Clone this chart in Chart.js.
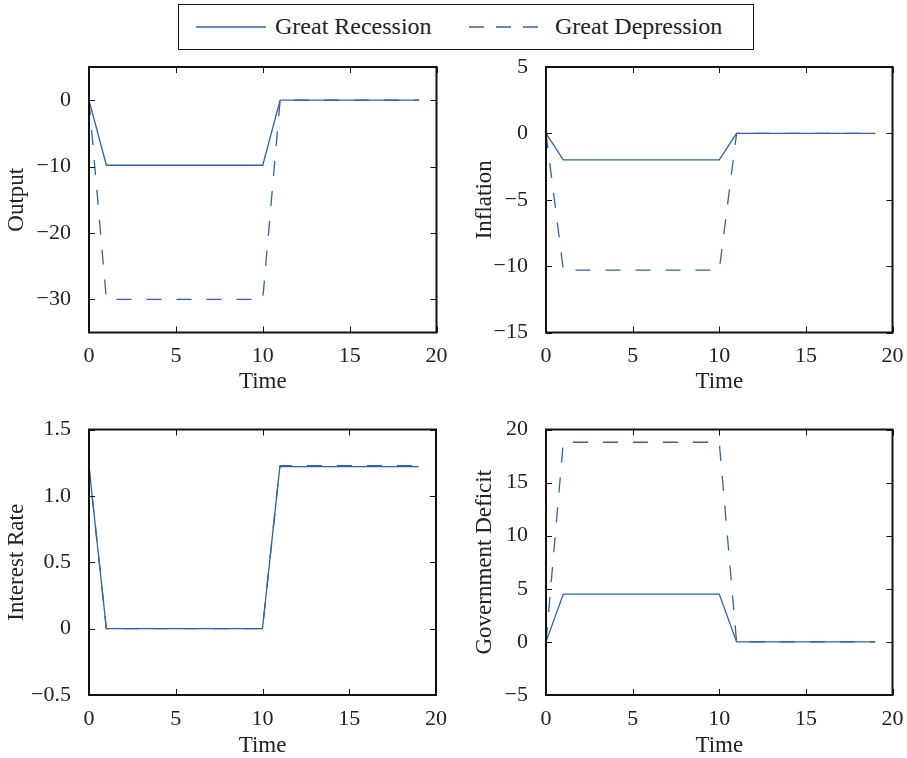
<!DOCTYPE html>
<html>
<head>
<meta charset="utf-8">
<script src="https://cdn.jsdelivr.net/npm/chart.js@4/dist/chart.umd.min.js"></script>
<style>
  body { margin: 0; width: 907px; height: 758px; background: #fff; position: relative; overflow: hidden; }
  canvas { position: absolute; }
  #legend { position: absolute; left: 178px; top: 4px; width: 574px; height: 44px; border: 1.5px solid #111; box-sizing: content-box; font-family: "Liberation Serif", serif; font-size: 24px; color: #222; }
  #legend span { position: absolute; top: 8px; white-space: nowrap; }
  #legend svg { position: absolute; left: 0; top: 0; }
</style>
</head>
<body>
<div id="legend">
  <svg width="574" height="44">
    <line x1="17" y1="22" x2="87" y2="22" stroke="#2c62b0" stroke-width="1.3"></line>
    <line x1="290" y1="22" x2="370" y2="22" stroke="#2c62b0" stroke-width="1.3" stroke-dasharray="15 12"></line>
  </svg>
  <span style="left:96px">Great Recession</span>
  <span style="left:376px">Great Depression</span>
</div>
<canvas id="c1"></canvas>
<canvas id="c2"></canvas>
<canvas id="c3"></canvas>
<canvas id="c4"></canvas>
<script>
const timeSteps = [0, 1, 2, 3, 4, 5, 6, 7, 8, 9, 10, 11, 12, 13, 14, 15, 16, 17, 18, 19];
const timeTicks = [0, 5, 10, 15, 20];

const outputRecession = [0, -9.8, -9.8, -9.8, -9.8, -9.8, -9.8, -9.8, -9.8, -9.8, -9.8, 0, 0, 0, 0, 0, 0, 0, 0, 0];
const outputDepression = [0, -30, -30, -30, -30, -30, -30, -30, -30, -30, -30, 0, 0, 0, 0, 0, 0, 0, 0, 0];
const outputTicks = [-30, -20, -10, 0];
const outputTickLabels = ["\u221230", "\u221220", "\u221210", "0"];

const inflationRecession = [0, -2, -2, -2, -2, -2, -2, -2, -2, -2, -2, 0, 0, 0, 0, 0, 0, 0, 0, 0];
const inflationDepression = [0, -10.3, -10.3, -10.3, -10.3, -10.3, -10.3, -10.3, -10.3, -10.3, -10.3, 0, 0, 0, 0, 0, 0, 0, 0, 0];
const inflationTicks = [-15, -10, -5, 0, 5];
const inflationTickLabels = ["\u221215", "\u221210", "\u22125", "0", "5"];

const rateRecession = [1.22, 0, 0, 0, 0, 0, 0, 0, 0, 0, 0, 1.22, 1.22, 1.22, 1.22, 1.22, 1.22, 1.22, 1.22, 1.22];
const rateDepression = [1.22, 0, 0, 0, 0, 0, 0, 0, 0, 0, 0, 1.228, 1.228, 1.228, 1.228, 1.228, 1.228, 1.228, 1.228, 1.228];
const rateTicks = [-0.5, 0, 0.5, 1, 1.5];
const rateTickLabels = ["\u22120.5", "0", "0.5", "1.0", "1.5"];

const deficitRecession = [0, 4.5, 4.5, 4.5, 4.5, 4.5, 4.5, 4.5, 4.5, 4.5, 4.5, 0, 0, 0, 0, 0, 0, 0, 0, 0];
const deficitDepression = [0, 18.8, 18.8, 18.8, 18.8, 18.8, 18.8, 18.8, 18.8, 18.8, 18.8, 0, 0, 0, 0, 0, 0, 0, 0, 0];
const deficitTicks = [-5, 0, 5, 10, 15, 20];
const deficitTickLabels = ["\u22125", "0", "5", "10", "15", "20"];

const lineColor = "#2c62b0";
const fontFamily = "'Liberation Serif', 'Times New Roman', serif";
const tickSize = 22;
const titleSize = 23;
const lineHeight = 1.2;

// frame + inward tick marks, matlab style
const boxPlugin = {
  id: "box",
  afterDraw(chart) {
    const { ctx, chartArea: a, scales } = chart;
    const len = 6;
    ctx.save();
    ctx.strokeStyle = "#111";
    ctx.lineWidth = 1;
    ctx.beginPath();
    scales.x.ticks.forEach((t) => {
      const px = Math.round(scales.x.getPixelForValue(t.value)) + 0.5;
      ctx.moveTo(px, a.bottom); ctx.lineTo(px, a.bottom - len);
      ctx.moveTo(px, a.top); ctx.lineTo(px, a.top + len);
    });
    scales.y.ticks.forEach((t) => {
      const py = Math.round(scales.y.getPixelForValue(t.value)) + 0.5;
      ctx.moveTo(a.left, py); ctx.lineTo(a.left + len, py);
      ctx.moveTo(a.right, py); ctx.lineTo(a.right - len, py);
    });
    ctx.stroke();
    ctx.lineWidth = 2;
    ctx.strokeRect(a.left, a.top, a.right - a.left, a.bottom - a.top);
    ctx.restore();
  },
};

function makePanel(opts) {
  const canvas = document.getElementById(opts.id);
  const [L, T, R, B] = opts.area;
  const cl = opts.canvas[0], ct = opts.canvas[1], cw = opts.canvas[2], ch = opts.canvas[3];
  canvas.style.left = cl + "px";
  canvas.style.top = ct + "px";
  canvas.width = cw;
  canvas.height = ch;
  canvas.style.width = cw + "px";
  canvas.style.height = ch + "px";

  const yAxisW = L - cl;
  const xAxisH = ct + ch - B;
  const yTitlePad = opts.yTitleX - cl - (titleSize * lineHeight) / 2;
  const xTitlePad = ct + ch - opts.xTitleY - (titleSize * lineHeight) / 2;

  const toPoints = (vals) => timeSteps.map((t, i) => ({ x: t, y: vals[i] }));

  return new Chart(canvas.getContext("2d"), {
    type: "line",
    data: {
      datasets: [
        {
          label: "Great Recession",
          data: toPoints(opts.recession),
          borderColor: lineColor,
          borderWidth: 1.3,
          pointRadius: 0,
          tension: 0,
          fill: false,
        },
        {
          label: "Great Depression",
          data: toPoints(opts.depression),
          borderColor: lineColor,
          borderWidth: 1.3,
          borderDash: [15, 15],
          pointRadius: 0,
          tension: 0,
          fill: false,
        },
      ],
    },
    options: {
      responsive: false,
      animation: false,
      events: [],
      layout: { padding: { top: T - ct, right: cl + cw - R, left: 0, bottom: 0 } },
      plugins: { legend: { display: false }, tooltip: { enabled: false } },
      scales: {
        x: {
          type: "linear",
          min: 0,
          max: 20,
          afterBuildTicks: (s) => { s.ticks = timeTicks.map((v) => ({ value: v })); },
          afterFit: (s) => { s.height = xAxisH; s.paddingLeft = 0; s.paddingRight = 0; },
          grid: { display: false },
          border: { display: false },
          ticks: {
            color: "#222",
            padding: 3,
            maxRotation: 0,
            autoSkip: false,
            font: { family: fontFamily, size: tickSize },
          },
          title: {
            display: true,
            text: "Time",
            color: "#222",
            padding: { top: 0, bottom: xTitlePad },
            font: { family: fontFamily, size: titleSize, lineHeight: lineHeight },
          },
        },
        y: {
          min: opts.yMin,
          max: opts.yMax,
          afterBuildTicks: (s) => { s.ticks = opts.ticks.map((v) => ({ value: v })); },
          afterFit: (s) => { s.width = yAxisW; s.paddingTop = 0; s.paddingBottom = 0; },
          grid: { display: false },
          border: { display: false },
          ticks: {
            color: "#222",
            padding: 10,
            autoSkip: false,
            font: { family: fontFamily, size: tickSize },
            callback: (value) => {
              const i = opts.ticks.indexOf(value);
              return i >= 0 ? opts.tickLabels[i] : "";
            },
          },
          title: {
            display: true,
            text: opts.yTitle,
            color: "#222",
            padding: { top: yTitlePad, bottom: 0 },
            font: { family: fontFamily, size: titleSize, lineHeight: lineHeight },
          },
        },
      },
    },
    plugins: [boxPlugin],
  });
}

makePanel({
  id: "c1", canvas: [0, 50, 453, 350], area: [89, 67, 436.5, 332.5],
  yTitleX: 17, xTitleY: 382, yTitle: "Output",
  recession: outputRecession, depression: outputDepression,
  yMin: -35, yMax: 5, ticks: outputTicks, tickLabels: outputTickLabels,
});
makePanel({
  id: "c2", canvas: [460, 50, 447, 350], area: [546, 67, 892.5, 332.5],
  yTitleX: 485, xTitleY: 382, yTitle: "Inflation",
  recession: inflationRecession, depression: inflationDepression,
  yMin: -15, yMax: 5, ticks: inflationTicks, tickLabels: inflationTickLabels,
});
makePanel({
  id: "c3", canvas: [0, 410, 453, 348], area: [89, 429.5, 436, 695],
  yTitleX: 17, xTitleY: 746, yTitle: "Interest Rate",
  recession: rateRecession, depression: rateDepression,
  yMin: -0.5, yMax: 1.5, ticks: rateTicks, tickLabels: rateTickLabels,
});
makePanel({
  id: "c4", canvas: [460, 410, 447, 348], area: [546, 429.5, 892.5, 695],
  yTitleX: 485, xTitleY: 746, yTitle: "Government Deficit",
  recession: deficitRecession, depression: deficitDepression,
  yMin: -5, yMax: 20, ticks: deficitTicks, tickLabels: deficitTickLabels,
});
</script>
</body>
</html>
